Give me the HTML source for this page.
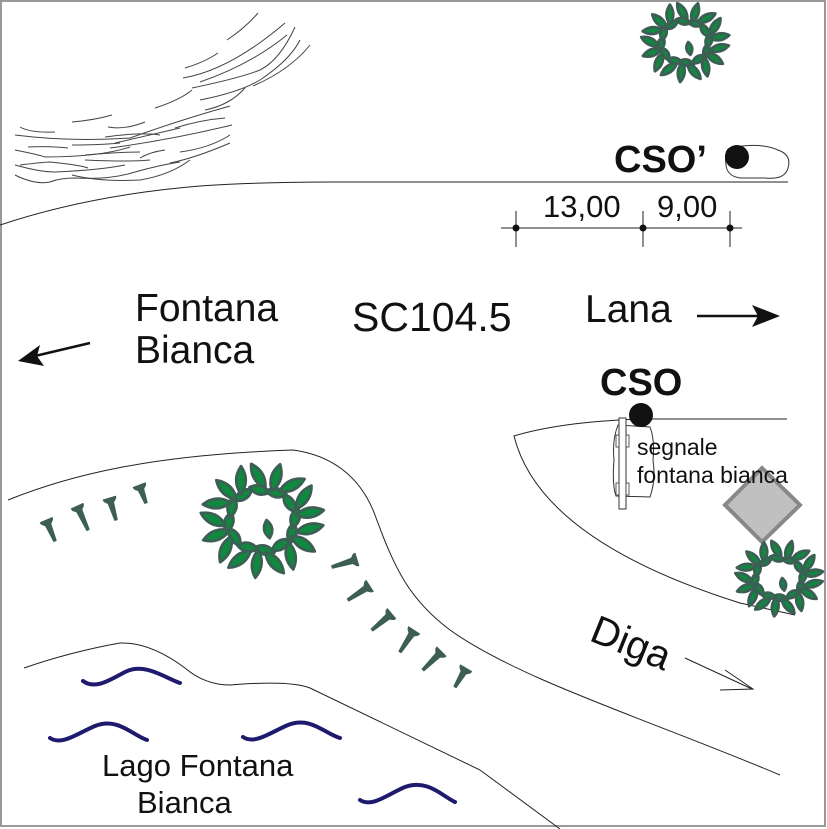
<!DOCTYPE html>
<html><head><meta charset="utf-8"><style>
html,body{margin:0;padding:0;background:#fff}
svg{display:block}
text{font-family:"Liberation Sans",sans-serif;fill:#111}
</style></head><body>
<svg id="s" width="827" height="829" viewBox="0 0 827 829" xmlns="http://www.w3.org/2000/svg">
<rect x="1" y="1" width="824" height="825" fill="#fff" stroke="#999" stroke-width="2"/>
<g fill="none" stroke="#444" stroke-width="1">
<path d="M227,40 Q245,28 258,13"/>
<path d="M185,68 Q205,62 218,53"/>
<path d="M183,78 Q230,70 285,23"/>
<path d="M200,82 Q250,65 287,35"/>
<path d="M192,88 Q240,78 260,70 Q280,60 295,27"/>
<path d="M200,100 Q240,92 260,80 Q290,60 300,40"/>
<path d="M253,86 Q290,70 310,45"/>
<path d="M155,108 Q180,100 192,90"/>
<path d="M205,110 Q230,105 245,88"/>
<path d="M20,127 Q30,133 55,132"/>
<path d="M72,122 Q95,120 112,115"/>
<path d="M108,127 Q125,130 145,122"/>
<path d="M15,135 Q70,142 130,138 Q180,120 230,106"/>
<path d="M105,137 Q140,132 160,135"/>
<path d="M115,143 Q150,135 180,128"/>
<path d="M175,128 Q200,120 225,118"/>
<path d="M28,147 Q50,146 68,148"/>
<path d="M72,145 Q100,145 120,143"/>
<path d="M15,150 Q40,155 45,157 Q100,157 130,147"/>
<path d="M85,155 Q120,152 140,152"/>
<path d="M110,148 Q170,140 232,125"/>
<path d="M20,165 Q45,162 50,162 Q80,165 88,168"/>
<path d="M85,160 Q130,162 150,160"/>
<path d="M180,152 Q210,148 230,135"/>
<path d="M15,165 Q40,172 55,172 Q100,170 125,165"/>
<path d="M170,163 Q195,158 230,143"/>
<path d="M15,175 Q35,185 50,182 Q60,178 75,178 Q110,180 135,172 Q160,165 180,162"/>
<path d="M72,175 Q100,182 140,180 Q170,175 190,160"/>
<path d="M140,158 Q150,152 165,150"/>
</g>
<g fill="none" stroke="#222" stroke-width="1">
<path d="M0,225 Q90,195 200,186 Q260,182 330,182 L788,182"/>
<path d="M8,500 C70,475 150,455 293,450 C330,455 360,475 375,515 C395,570 410,600 450,630 C520,680 650,720 780,775"/>
<path d="M24,668 Q70,652 120,643 Q150,642 185,668 Q205,685 230,685 Q290,680 310,688 L480,770 L560,829"/>
<path d="M787,419 L640,419 Q560,422 514,436 Q540,540 740,603 L795,615"/>
<line x1="501" y1="228" x2="742" y2="228"/>
<line x1="516" y1="211" x2="516" y2="247"/><line x1="643" y1="211" x2="643" y2="247"/><line x1="730" y1="211" x2="730" y2="247"/>
<line x1="685" y1="658" x2="752" y2="689"/>
<path d="M725,670 L753,689 L720,690"/>
<path d="M730,148 Q760,142 778,150 Q792,155 788,168 Q785,180 765,178 L740,178 Q727,176 726,165 Q724,150 730,148Z" stroke="#333"/>
<path d="M618,425 Q612,440 614,460 Q612,485 616,496 L650,497 Q656,480 653,460 Q655,440 650,427 Z" stroke="#333"/>
</g>
<rect x="619" y="418" width="7" height="91" fill="#fff" stroke="#333"/>
<rect x="616" y="435" width="3" height="12" fill="#fff" stroke="#333" stroke-width=".8"/>
<rect x="616" y="483" width="3" height="12" fill="#fff" stroke="#333" stroke-width=".8"/>
<rect x="626" y="435" width="3" height="12" fill="#fff" stroke="#333" stroke-width=".8"/>
<rect x="626" y="483" width="3" height="12" fill="#fff" stroke="#333" stroke-width=".8"/>
<g fill="#111"><circle cx="516" cy="228" r="3.5"/><circle cx="643" cy="228" r="3.5"/><circle cx="730" cy="228" r="3.5"/>
<circle cx="737" cy="157" r="12"/><circle cx="641" cy="415" r="12"/>
<line x1="697" y1="316" x2="760" y2="316" stroke="#111" stroke-width="2.5"/>
<path d="M780,316 L752,305 L758,316 L752,327Z"/>
<line x1="90" y1="343" x2="35" y2="356" stroke="#111" stroke-width="2.5"/>
<path d="M18,361 L40,345 L37,356 L44,366Z"/>
</g>
<path d="M762,468 L800,505 L762,542 L725,505Z" fill="#c0c0c0" stroke="#888" stroke-width="4"/>
<g fill="none" stroke="#1e1a6e" stroke-width="4" stroke-linecap="round">
<path d="M83,681 C95,690 110,680 125,672 C145,662 165,678 180,683"/>
<path d="M50,738 C62,746 78,733 95,726 C118,717 132,735 147,740"/>
<path d="M243,737 C255,745 271,732 288,725 C311,716 325,734 340,738"/>
<path d="M360,800 C372,808 388,794 405,787 C428,779 442,796 455,802"/>
</g>
<g id="trees"></g>
<g id="pins" fill="#3d5e55" stroke="#3d5e55" stroke-width="1" stroke-linejoin="round"></g>
<text x="543" y="217" font-size="31">13,00</text>
<text x="657" y="217" font-size="31">9,00</text>
<text x="614" y="172" font-size="38" font-weight="bold">CSO’</text>
<text x="600" y="395" font-size="38" font-weight="bold">CSO</text>
<text x="135" y="321" font-size="39">Fontana</text>
<text x="135" y="363" font-size="39">Bianca</text>
<text x="352" y="331" font-size="41">SC104.5</text>
<text x="585" y="322" font-size="39">Lana</text>
<text x="637" y="455" font-size="23">segnale</text>
<text x="637" y="483" font-size="23">fontana bianca</text>
<text x="588" y="640" font-size="40" transform="rotate(22 588 640)">Diga</text>
<text x="102" y="776" font-size="31">Lago Fontana</text>
<text x="137" y="813" font-size="31">Bianca</text>
</svg>
<script>
var NS="http://www.w3.org/2000/svg";
function leaf(g,x,y,ang,len,w){
 var dx=Math.cos(ang),dy=Math.sin(ang),px=-dy,py=dx;
 var ax=x-dx*len/2,ay=y-dy*len/2,bx=x+dx*len/2,by=y+dy*len/2;
 var d="M"+ax+","+ay+" Q"+(x+px*w*1.3)+","+(y+py*w*1.3)+" "+bx+","+by+" Q"+(x-px*w*1.3)+","+(y-py*w*1.3)+" "+ax+","+ay+"Z";
 var p=document.createElementNS(NS,"path");p.setAttribute("d",d);g.appendChild(p);
}
function tree(cx,cy,rx,ry){
 var g=document.createElementNS(NS,"g");g.setAttribute("fill","#0e8a3e");g.setAttribute("stroke","#3d5e55");g.setAttribute("stroke-width","2.8");g.setAttribute("stroke-linejoin","round");
 document.getElementById("trees").appendChild(g);
 var s=(rx+ry)/2;
 for(var i=0;i<12;i++){var a=i/12*6.283+0.45;leaf(g,cx+Math.cos(a)*rx*0.52,cy+Math.sin(a)*ry*0.52,a+1.3+(i%3)*0.3,s*0.34,s*0.11);}
 for(var i=0;i<17;i++){var a=i/17*6.283+0.2;leaf(g,cx+Math.cos(a)*rx*0.76,cy+Math.sin(a)*ry*0.76,a+(i%3-1)*0.45,s*0.46,s*0.12);}
 leaf(g,cx+s*0.1,cy+s*0.15,1.4,s*0.3,s*0.1);
}
tree(685,42,46,40);tree(262,520,64,58);tree(779,578,46,38);
function pin(hx,hy,tx,ty){
 var dx=tx-hx,dy=ty-hy,l=Math.hypot(dx,dy);dx/=l;dy/=l;var px=-dy,py=dx;
 var pts=[[hx+px*6.5-dx*2,hy+py*6.5-dy*2],[hx-px*6.5-dx*2,hy-py*6.5-dy*2],[hx-px*6,hy-py*6],[hx-px*2.8+dx*3,hy-py*2.8+dy*3],[tx-px*1.3,ty-py*1.3],[tx+px*1.3,ty+py*1.3],[hx+px*2.8+dx*3,hy+py*2.8+dy*3],[hx+px*6,hy+py*6]];
 var p=document.createElementNS(NS,"polygon");p.setAttribute("points",pts.map(function(q){return q[0]+","+q[1]}).join(" "));
 document.getElementById("pins").appendChild(p);
}
pin(47,522,55,541);pin(78,508,88,530);pin(110,500,116,520);pin(140,487,146,503);
pin(355,560,332,567);pin(368,587,348,600);pin(390,615,372,630);pin(413,632,400,652);pin(440,653,423,670);pin(465,670,455,687);
</script>
</body></html>
